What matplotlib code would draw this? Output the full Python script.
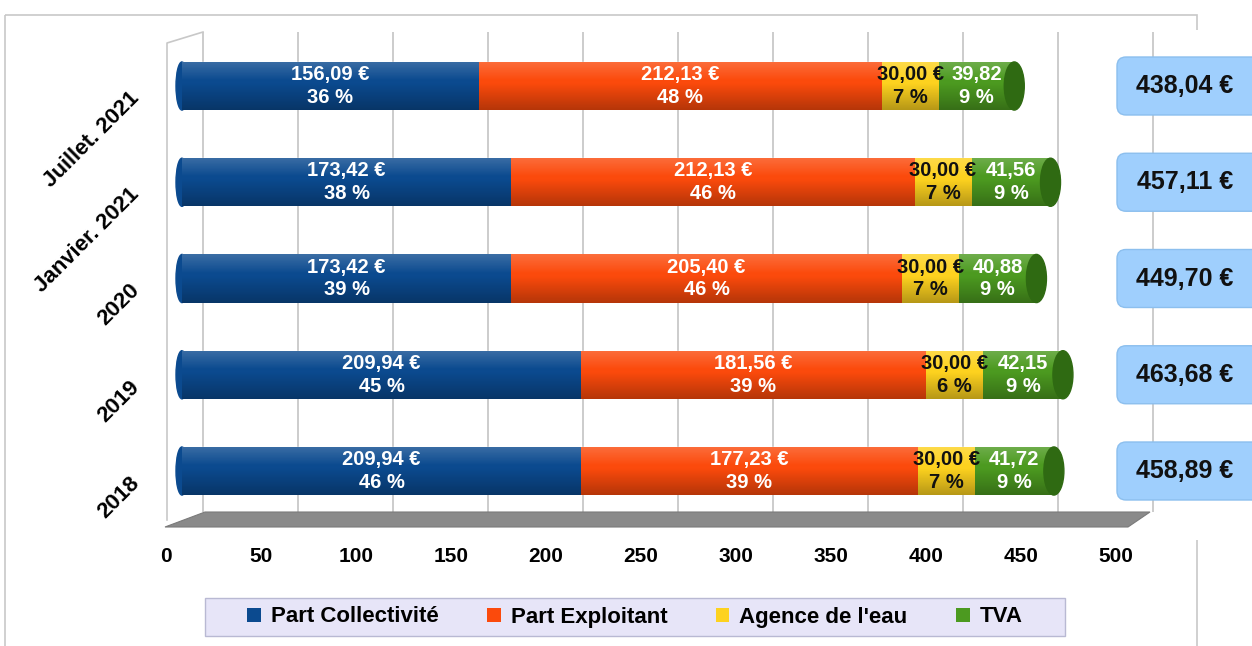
import matplotlib
matplotlib.use("Agg")
import matplotlib.pyplot as plt
import numpy as np
from matplotlib import transforms
from matplotlib.patches import Ellipse, FancyBboxPatch, Patch, Polygon, Rectangle

categories = ["2018", "2019", "2020", "Janvier. 2021", "Juillet. 2021"]
part_collectivite = [209.94, 209.94, 173.42, 173.42, 156.09]
part_exploitant = [177.23, 181.56, 205.40, 212.13, 212.13]
agence_eau = [30.00, 30.00, 30.00, 30.00, 30.00]
tva = [41.72, 42.15, 40.88, 41.56, 39.82]
totals = [458.89, 463.68, 449.70, 457.11, 438.04]
pct_collectivite = [46, 45, 39, 38, 36]
pct_exploitant = [39, 39, 46, 46, 48]
pct_agence = [7, 6, 7, 7, 7]
pct_tva = [9, 9, 9, 9, 9]
series_names = ["Part Collectivité", "Part Exploitant", "Agence de l'eau", "TVA"]
x_ticks = [0, 50, 100, 150, 200, 250, 300, 350, 400, 450, 500]

COLORS = ["#0b4a8f", "#fb4a0c", "#fdd21f", "#4c9a20"]
CAP_GREEN = "#2f6a12"
TEXT_COLORS = ["white", "white", "#111111", "white"]

W, H, DPI = 1252, 646, 100
X0, SCALE = 182, 1.9          # pixel of value 0, pixels per euro
Y0, STEP = 471, 96.25         # pixel centre of first bar, spacing

FONT = ["Liberation Sans", "DejaVu Sans"]


def fmt(v, euro=True):
    s = f"{v:.2f}".replace(".", ",")
    return s + " €" if euro else s


fig = plt.figure(figsize=(W / DPI, H / DPI), dpi=DPI)
# pixel transform, origin top-left
PX = transforms.Affine2D().scale(1, -1).translate(0, H)

ax_l, ax_r, ax_t, ax_b = 150, W, 30, 540
ax = fig.add_axes([ax_l / W, 1 - ax_b / H, (ax_r - ax_l) / W, (ax_b - ax_t) / H])
for sp in ax.spines.values():
    sp.set_visible(False)

# outer frame
fig.add_artist(Rectangle((5, 15), 1192, 700, transform=PX, fill=False,
                         ec="#c8c8c8", lw=1.2, zorder=0))

# back wall gridlines (shifted for the 3D look)
grid_shift = (203 - X0) / SCALE
ax.vlines(np.array(x_ticks) + grid_shift, (Y0 - 512) / STEP, (Y0 - 32) / STEP,
          color="#c4c4c4", lw=1.2, zorder=1)
fig.add_artist(plt.Line2D([167, 167, 203], [520, 43, 32], transform=PX,
                          color="#c8c8c8", lw=1.2, zorder=1))
# floor
fig.add_artist(Polygon([(165, 527), (205, 512), (1150, 512), (1128, 527)],
                       closed=True, transform=PX, fc="#8a8a8a", ec="#7a7a7a",
                       lw=0.8, zorder=1))

y = np.arange(len(categories))
bar_h = 0.5
left = np.zeros(len(categories))
all_vals = [part_collectivite, part_exploitant, agence_eau, tva]
all_pcts = [pct_collectivite, pct_exploitant, pct_agence, pct_tva]

for k, (vals, pcts) in enumerate(zip(all_vals, all_pcts)):
    vals = np.array(vals)
    ax.barh(y, vals, left=left, height=bar_h, color=COLORS[k], zorder=3)
    for i in range(len(y)):
        txt = f"{fmt(vals[i], euro=(k < 3))}\n{pcts[i]} %"
        ax.text(left[i] + vals[i] / 2, y[i], txt, ha="center", va="center",
                color=TEXT_COLORS[k], fontsize=14.5, fontweight="bold",
                family=FONT, linespacing=1.25, zorder=7)
    left += vals

# cylinder shading
t = np.linspace(0, 1, 80)
grad = np.zeros((80, 1, 4))
light = np.clip(1 - t / 0.4, 0, 1) * 0.2
dark = np.clip((t - 0.45) / 0.55, 0, 1) * 0.28
grad[:, 0, :3] = np.where(t[:, None] < 0.45, 1.0, 0.0)
grad[:, 0, 3] = np.where(t < 0.45, light, dark)
for i in range(len(y)):
    ax.imshow(grad, extent=(0, left[i], y[i] - bar_h / 2, y[i] + bar_h / 2),
              aspect="auto", origin="upper", zorder=4, interpolation="bilinear")
    ax.add_patch(Ellipse((0, y[i]), 12 / SCALE, bar_h, color=COLORS[0], zorder=3))
    ax.add_patch(Ellipse((left[i], y[i]), 20 / SCALE, bar_h, color=CAP_GREEN, zorder=5))

ax.set_xlim((ax_l - X0) / SCALE, (ax_r - X0) / SCALE)
ax.set_ylim((Y0 - ax_b) / STEP, (Y0 - ax_t) / STEP)

# x ticks
ax.set_xticks(x_ticks)
ax.set_xticklabels([str(v) for v in x_ticks], fontsize=15, fontweight="bold",
                   family=FONT)
ax.tick_params(axis="x", length=0, pad=5)
shift_x = transforms.ScaledTranslation(-16 / DPI, 0, fig.dpi_scale_trans)
for lab in ax.get_xticklabels():
    lab.set_transform(lab.get_transform() + shift_x)

# category labels
ax.set_yticks(y)
ax.set_yticklabels(categories, fontsize=16, fontweight="bold", family=FONT,
                   rotation=45, ha="right", va="center", rotation_mode="anchor")
ax.tick_params(axis="y", length=0, pad=10)
shift_y = transforms.ScaledTranslation(0, -9 / DPI, fig.dpi_scale_trans)
for lab in ax.get_yticklabels():
    lab.set_transform(lab.get_transform() + shift_y)

# total boxes on the right
for i in range(len(y)):
    yd = ax.transData.transform((0, y[i]))[1]
    fig.add_artist(FancyBboxPatch((1117, yd - 29), 160, 58,
                                  boxstyle="round,pad=0,rounding_size=9",
                                  transform=transforms.IdentityTransform(),
                                  fc="#9fcffd", ec="#8cbfee", lw=1, zorder=8))
    fig.text(1185 / W, yd / H, fmt(totals[i]), ha="center", va="center",
             fontsize=18, fontweight="bold", family=FONT, color="#111111",
             zorder=9)

# legend box + entries
fig.add_artist(Rectangle((205, 598), 860, 38, transform=PX, fc="#e7e5f8",
                         ec="#b9b9d3", lw=1, zorder=2))
handles = [Patch(facecolor=c, edgecolor="none") for c in COLORS]
fig.legend(handles, series_names, ncol=4, loc="center",
           bbox_to_anchor=(635 / W, 1 - 617 / H), frameon=False,
           handlelength=0.6, handleheight=0.6, handletextpad=0.45,
           columnspacing=2.2, borderpad=0,
           prop={"family": FONT, "weight": "bold", "size": 16})

fig.savefig("out.png", dpi=DPI, facecolor="white")
